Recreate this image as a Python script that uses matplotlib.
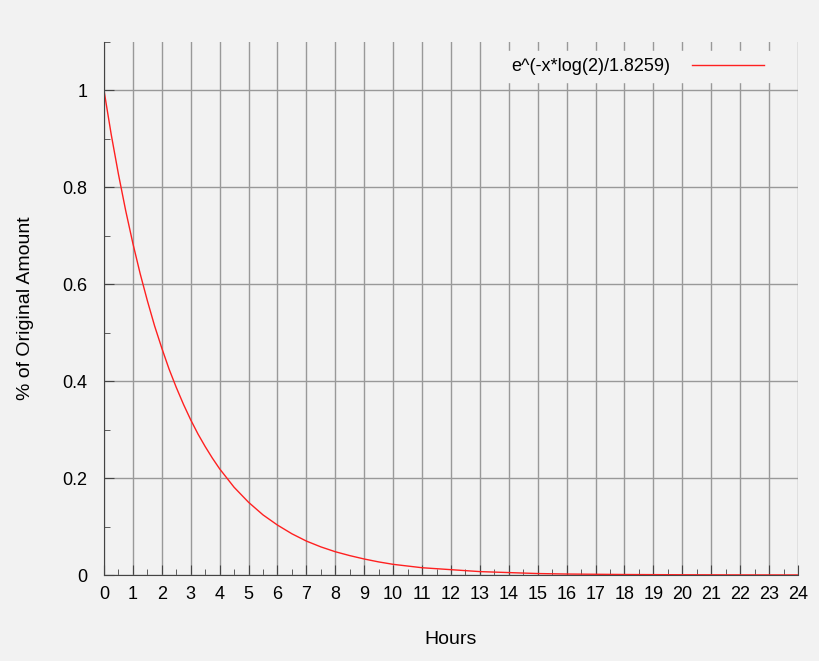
import matplotlib.pyplot as plt

# values
hours = [0, 0.25, 0.5, 0.75, 1, 1.25, 1.5, 1.75, 2, 2.25, 2.5, 2.75, 3, 3.25, 3.5, 3.75, 4,
         4.5, 5, 5.5, 6, 6.5, 7, 7.5, 8, 8.5, 9, 9.5, 10, 11, 12, 13, 14, 15, 16, 18, 20, 22, 24]
amount = [1.0, 0.909, 0.827, 0.752, 0.684, 0.622, 0.566, 0.514, 0.468, 0.425, 0.387, 0.352,
          0.320, 0.291, 0.265, 0.241, 0.219, 0.181, 0.150, 0.124, 0.103, 0.085, 0.070, 0.058,
          0.048, 0.040, 0.033, 0.027, 0.022, 0.015, 0.011, 0.007, 0.005, 0.003, 0.002,
          0.001, 0.0005, 0.0002, 0.0001]
x_ticks = list(range(0, 25))
y_ticks = [0, 0.2, 0.4, 0.6, 0.8, 1]
y_labels = ['0', '0.2', '0.4', '0.6', '0.8', '1']

plt.rcParams['font.family'] = ['Liberation Sans', 'DejaVu Sans']
bg = '#f2f2f2'
fig = plt.figure(figsize=(8.2, 6.61), dpi=100, facecolor=bg)
ax = fig.add_axes([104 / 820, 1 - 575 / 661, 694 / 820, 533 / 661], facecolor=bg)

ax.plot(hours, amount, color='#ff2020', lw=1, label='e^(-x*log(2)/1.8259)')
ax.set_xlim(0, 24)
ax.set_ylim(0, 1.1)
ax.set_xticks(x_ticks)
ax.set_xticks([t + 0.5 for t in x_ticks[:-1]], minor=True)
ax.set_yticks(y_ticks)
ax.set_yticklabels(y_labels)
ax.set_yticks([0.1, 0.3, 0.5, 0.7, 0.9, 1.1], minor=True)
ax.grid(True, which='major', color='#999999', lw=1)
ax.tick_params(which='both', direction='in', labelsize=13, color='#444444')
ax.tick_params(which='major', length=7)
ax.tick_params(which='minor', length=4)
ax.tick_params(axis='y', pad=12)
ax.tick_params(axis='x', pad=8)
for s in ['top', 'right']:
    ax.spines[s].set_visible(False)
for s in ['left', 'bottom']:
    ax.spines[s].set_color('#444444')
ax.set_xlabel('Hours', fontsize=14, labelpad=20)
ax.set_ylabel('% of Original Amount', fontsize=14, labelpad=20)
leg = ax.legend(loc='upper right', frameon=True, fontsize=13, handlelength=4,
                handletextpad=1.2, markerfirst=False, facecolor=bg, edgecolor=bg,
                framealpha=1, bbox_to_anchor=(0.975, 1.0))

fig.savefig('out.png', dpi=100, facecolor=bg)
